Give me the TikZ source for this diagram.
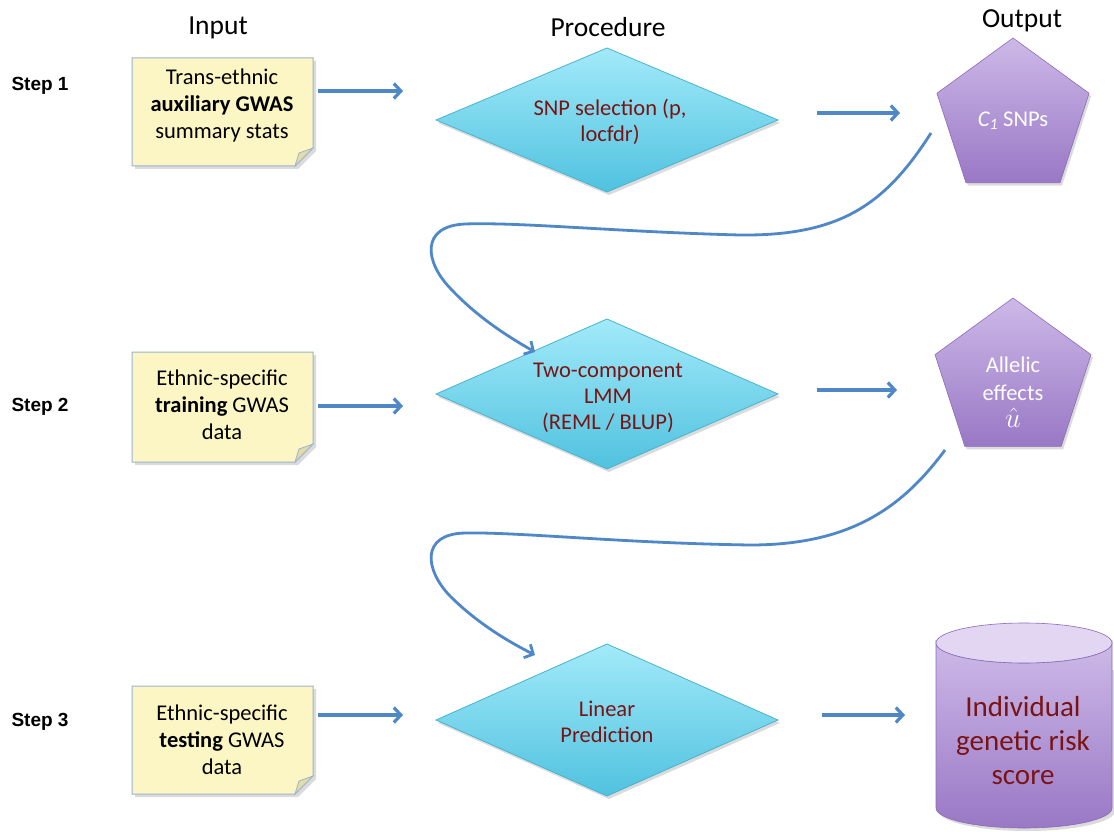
\documentclass[tikz,border=0pt]{standalone}
\usepackage{graphicx}
\usepackage{fontspec}
\setmainfont{Carlito}
\newfontfamily\arialf{Liberation Sans}
\usetikzlibrary{arrows.meta,shapes.geometric,calc}
\definecolor{notefill}{HTML}{FBF6C4}
\definecolor{noteborder}{HTML}{9DB3CF}
\definecolor{foldfill}{HTML}{E2DDA6}
\definecolor{diatop}{HTML}{A2EAF9}
\definecolor{diabot}{HTML}{50C2DF}
\definecolor{diaborder}{HTML}{4AB3D0}
\definecolor{pentop}{HTML}{CDB9E8}
\definecolor{penbot}{HTML}{9978C5}
\definecolor{penborder}{HTML}{8A6CB9}
\definecolor{cyltopfill}{HTML}{E2D6F3}
\definecolor{arrowblue}{HTML}{4F87C7}
\definecolor{darkred}{HTML}{7A1414}
\tikzset{
  header/.style={font=\fontsize{27.5}{30}\selectfont, text=black},
  steplabel/.style={font=\arialf\bfseries\fontsize{19}{22}\selectfont, anchor=west},
  notetext/.style={align=center, font=\fontsize{22.5}{27}\selectfont, text=black},
  diatext/.style={align=center, font=\fontsize{22.5}{26}\selectfont, text=darkred},
  pentext/.style={align=center, font=\fontsize{22.5}{28}\selectfont, text=white},
  cyltext/.style={align=center, font=\fontsize{29}{34}\selectfont, text=darkred},
  arr/.style={draw=arrowblue, line width=3.2pt, -{Straight Barb[length=7pt,width=15pt]}},
  curvearr/.style={draw=arrowblue, line width=2.8pt, -{Straight Barb[length=7pt,width=15pt]}},
  shadowfill/.style={fill=black, opacity=0.14},
  pent/.style={regular polygon, regular polygon sides=5, inner sep=0pt, draw=penborder, line width=0.6pt, top color=pentop, bottom color=penbot},
}
\newcommand{\notebg}[4]{% x1 y1 x2 y2
  \fill[shadowfill] (#1+3,#2+3) -- (#3+3,#2+3) -- (#3+3,#4+3-18) -- (#3+3-18,#4+3) -- (#1+3,#4+3) -- cycle;
  \fill[notefill, draw=noteborder, line width=1pt] (#1,#2) -- (#3,#2) -- (#3,#4-18) -- (#3-18,#4) -- (#1,#4) -- cycle;
  \fill[foldfill, draw=noteborder, line width=0.8pt] (#3,#4-18) -- (#3-14,#4-13) -- (#3-18,#4) -- cycle;
}
\newcommand{\diabg}[3]{% cx cy hh
  \fill[shadowfill] (#1-171+2,#2+3) -- (#1+2,#2-#3+3) -- (#1+171+2,#2+3) -- (#1+2,#2+#3+3) -- cycle;
  \shade[top color=diatop, bottom color=diabot, draw=diaborder, line width=0.8pt] (#1-171,#2) -- (#1,#2-#3) -- (#1+171,#2) -- (#1,#2+#3) -- cycle;
}
\newcommand{\pentshadow}[3]{% cx cy R
  \fill[shadowfill] (#1+2,#2+3) +(-90:#3) -- +(-162:#3) -- +(-234:#3) -- +(-306:#3) -- +(-18:#3) -- cycle;
}
\begin{document}
\begin{tikzpicture}[x=1pt,y=-1pt]
\useasboundingbox (0,0) rectangle (1114,832);
\fill[white] (0,0) rectangle (1114,832);

% headers
\node[header] (hin) at (218,28) {Input};
\node[header] (hproc) at (608,27) {Procedure};
\node[header] (hout) at (1022,21) {Output};

% step labels
\node[steplabel] (s1) at (8,86) {Step 1};
\node[steplabel] (s2) at (8,407) {Step 2};
\node[steplabel] (s3) at (8,722) {Step 3};

% notes
\notebg{132}{58}{313}{166}
\node[notetext] (n1) at (222,106) {Trans-ethnic\\\textbf{auxiliary GWAS}\\summary stats};
\notebg{132}{352}{313}{462}
\node[notetext] (n2) at (222,405) {Ethnic-specific\\\textbf{training} GWAS\\data};
\notebg{132}{686}{313}{794}
\node[notetext] (n3) at (222,740) {Ethnic-specific\\\textbf{testing} GWAS\\data};

% diamonds
\diabg{607}{120}{72}
\node[diatext] (d1) at (610,122) {SNP selection (p,\\locfdr)};
\diabg{607}{394}{75}
\node[diatext] (d2) at (608,398) {Two-component\\LMM\\(REML / BLUP)};
\diabg{607}{720}{76}
\node[diatext] (d3) at (607,722) {Linear\\Prediction};

% pentagons
\pentshadow{1013}{118}{80}
\node[pent, minimum size=160pt] (p1) at (1013,118) {};
\node[pentext] (p1t) at (1013,121) {\textit{C\textsubscript{1}} SNPs};
\pentshadow{1013}{380}{82}
\node[pent, minimum size=164pt] (p2) at (1013,380) {};
\node[pentext] (p2t) at (1013,392) {Allelic\\effects\\[-1pt]\scalebox{1.35}{$\hat{u}$}};

% cylinder
\fill[shadowfill] (939,670) -- (939,811) arc[start angle=180,end angle=360,x radius=88,y radius=-20] -- (1114,670) -- cycle;
\shade[top color=pentop, bottom color=penbot, draw=penborder, line width=0.6pt]
  (936,643) -- (936,808) arc[start angle=180,end angle=360,x radius=88,y radius=-20] -- (1112,643)
  arc[start angle=0,end angle=180,x radius=88,y radius=20] -- cycle;
\fill[cyltopfill, draw=penborder, line width=0.6pt] (1024,643) ellipse[x radius=88, y radius=20];
\node[cyltext] (cyl) at (1023,741) {Individual\\genetic risk\\score};

% straight arrows
\coordinate (a1s) at (318,91); \coordinate (a1e) at (403,91);
\coordinate (b1s) at (817,113); \coordinate (b1e) at (900,113);
\coordinate (a2s) at (318,406); \coordinate (a2e) at (403,406);
\coordinate (b2s) at (817,390); \coordinate (b2e) at (897,390);
\coordinate (a3s) at (318,715); \coordinate (a3e) at (403,715);
\coordinate (b3s) at (822,715); \coordinate (b3e) at (905,715);
\draw[arr] (a1s) -- (a1e);
\draw[arr] (b1s) -- (b1e);
\draw[arr] (a2s) -- (a2e);
\draw[arr] (b2s) -- (b2e);
\draw[arr] (a3s) -- (a3e);
\draw[arr] (b3s) -- (b3e);

% curved arrows
\coordinate (c1s) at (931,133); \coordinate (c1e) at (535,352);
\coordinate (c2s) at (945,450); \coordinate (c2e) at (535,655);
\draw[curvearr] (c1s) .. controls (885,205) and (840,236) .. (740,235)
  .. controls (620,232) and (520,222) .. (465,224)
  .. controls (420,226) and (425,262) .. (450,288)
  .. controls (475,315) and (505,335) .. (c1e);
\draw[curvearr] (c2s) .. controls (902,508) and (850,545) .. (750,545)
  .. controls (620,543) and (520,532) .. (465,533)
  .. controls (420,534) and (425,570) .. (450,596)
  .. controls (475,621) and (505,640) .. (c2e);
\end{tikzpicture}
\end{document}
